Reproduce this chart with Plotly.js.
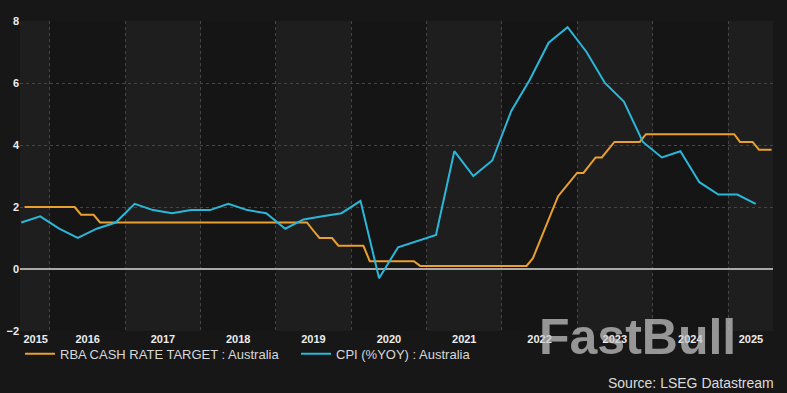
<!DOCTYPE html>
<html>
<head>
<meta charset="utf-8">
<script src="https://cdn.plot.ly/plotly-3.0.1.min.js"></script>
<style>
html,body{margin:0;padding:0;background:#171717;}
#chart{width:787px;height:393px;}
</style>
</head>
<body>
<div id="chart"></div>
<script>
// RBA cash rate target, month-end values (Aug 2015 .. Jul 2025)
const rbaMonths = [
  '2015-08','2015-09','2015-10','2015-11','2015-12',
  '2016-01','2016-02','2016-03','2016-04','2016-05','2016-06','2016-07','2016-08','2016-09','2016-10','2016-11','2016-12',
  '2017-01','2017-02','2017-03','2017-04','2017-05','2017-06','2017-07','2017-08','2017-09','2017-10','2017-11','2017-12',
  '2018-01','2018-02','2018-03','2018-04','2018-05','2018-06','2018-07','2018-08','2018-09','2018-10','2018-11','2018-12',
  '2019-01','2019-02','2019-03','2019-04','2019-05','2019-06','2019-07','2019-08','2019-09','2019-10','2019-11','2019-12',
  '2020-01','2020-02','2020-03','2020-04','2020-05','2020-06','2020-07','2020-08','2020-09','2020-10','2020-11','2020-12',
  '2021-01','2021-02','2021-03','2021-04','2021-05','2021-06','2021-07','2021-08','2021-09','2021-10','2021-11','2021-12',
  '2022-01','2022-02','2022-03','2022-04','2022-05','2022-06','2022-07','2022-08','2022-09','2022-10','2022-11','2022-12',
  '2023-01','2023-02','2023-03','2023-04','2023-05','2023-06','2023-07','2023-08','2023-09','2023-10','2023-11','2023-12',
  '2024-01','2024-02','2024-03','2024-04','2024-05','2024-06','2024-07','2024-08','2024-09','2024-10','2024-11','2024-12',
  '2025-01','2025-02','2025-03','2025-04','2025-05','2025-06','2025-07'
];
const rbaValues = [
  2.0,2.0,2.0,2.0,2.0,
  2.0,2.0,2.0,2.0,1.75,1.75,1.75,1.5,1.5,1.5,1.5,1.5,
  1.5,1.5,1.5,1.5,1.5,1.5,1.5,1.5,1.5,1.5,1.5,1.5,
  1.5,1.5,1.5,1.5,1.5,1.5,1.5,1.5,1.5,1.5,1.5,1.5,
  1.5,1.5,1.5,1.5,1.5,1.25,1.0,1.0,1.0,0.75,0.75,0.75,
  0.75,0.75,0.25,0.25,0.25,0.25,0.25,0.25,0.25,0.25,0.1,0.1,
  0.1,0.1,0.1,0.1,0.1,0.1,0.1,0.1,0.1,0.1,0.1,0.1,
  0.1,0.1,0.1,0.1,0.35,0.85,1.35,1.85,2.35,2.6,2.85,3.1,
  3.1,3.35,3.6,3.6,3.85,4.1,4.1,4.1,4.1,4.1,4.35,4.35,
  4.35,4.35,4.35,4.35,4.35,4.35,4.35,4.35,4.35,4.35,4.35,4.35,
  4.35,4.1,4.1,4.1,3.85,3.85,3.85
];

// CPI % YoY, quarterly (2015 Q3 .. 2025 Q2)
const cpiQuarters = [
  '2015-Q3','2015-Q4',
  '2016-Q1','2016-Q2','2016-Q3','2016-Q4',
  '2017-Q1','2017-Q2','2017-Q3','2017-Q4',
  '2018-Q1','2018-Q2','2018-Q3','2018-Q4',
  '2019-Q1','2019-Q2','2019-Q3','2019-Q4',
  '2020-Q1','2020-Q2','2020-Q3','2020-Q4',
  '2021-Q1','2021-Q2','2021-Q3','2021-Q4',
  '2022-Q1','2022-Q2','2022-Q3','2022-Q4',
  '2023-Q1','2023-Q2','2023-Q3','2023-Q4',
  '2024-Q1','2024-Q2','2024-Q3','2024-Q4',
  '2025-Q1','2025-Q2'
];
const cpiValues = [
  1.5,1.7,
  1.3,1.0,1.3,1.5,
  2.1,1.9,1.8,1.9,
  1.9,2.1,1.9,1.8,
  1.3,1.6,1.7,1.8,
  2.2,-0.3,0.7,0.9,
  1.1,3.8,3.0,3.5,
  5.1,6.1,7.3,7.8,
  7.0,6.0,5.4,4.1,
  3.6,3.8,2.8,2.4,
  2.4,2.1
];

const yearLabels = ['2015','2016','2017','2018','2019','2020','2021','2022','2023','2024','2025'];
const yTickValues = [-2,0,2,4,6,8];

const seriesNames = ['RBA CASH RATE TARGET : Australia','CPI (%YOY) : Australia'];
const sourceText = 'Source: LSEG Datastream';
const watermarkText = 'FastBull';

// helpers: month -> month-end date, quarter -> mid-quarter date
function monthEnd(m){
  const [y,mo] = m.split('-').map(Number);
  const d = new Date(Date.UTC(y, mo, 0));
  return d.toISOString().slice(0,10);
}
function quarterMid(q){
  const [y,qq] = q.split('-Q').map(Number);
  const mo = (qq-1)*3 + 2;
  return y + '-' + String(mo).padStart(2,'0') + '-15';
}

const xRange = ['2015-08-09','2025-08-07'];

// label positions: centre of visible part of each year
const tickPositions = yearLabels.map((y,i)=>{
  if(i===0) return '2015-10-24';
  if(i===yearLabels.length-1) return '2025-04-22';
  return y + '-07-02';
});
const yearStarts = yearLabels.slice(1).map(y => y + '-01-01');

// alternating year bands
const shapes = [];
yearLabels.forEach((y,i)=>{
  if(Number(y)%2===1){
    const x0 = i===0 ? xRange[0] : y + '-01-01';
    const x1 = i===yearLabels.length-1 ? xRange[1] : (Number(y)+1) + '-01-01';
    shapes.push({type:'rect', xref:'x', yref:'paper', x0:x0, x1:x1, y0:0, y1:1,
      fillcolor:'#1e1e1e', line:{width:0}, layer:'below'});
  }
});

const font = "'Liberation Sans', Arial, sans-serif";

const traces = [
  {
    x: rbaMonths.map(monthEnd), y: rbaValues, name: seriesNames[0],
    type:'scatter', mode:'lines', line:{color:'#e9a030', width:2}
  },
  {
    x: cpiQuarters.map(quarterMid), y: cpiValues, name: seriesNames[1],
    type:'scatter', mode:'lines', line:{color:'#2ab7d9', width:2}
  }
];

const layout = {
  width:787, height:393,
  paper_bgcolor:'#171717', plot_bgcolor:'#151515',
  margin:{l:20, r:14, t:21, b:62},
  showlegend:true,
  font:{family:font, color:'#dcdcdc'},
  xaxis:{
    type:'date', range:xRange,
    tickmode:'array', tickvals:tickPositions, ticktext:yearLabels,
    ticks:'', showgrid:false, zeroline:false, showline:false,
    tickfont:{family:font, size:11, color:'#ececec', weight:'bold'},
    minor:{tickmode:'array', tickvals:yearStarts, showgrid:true, gridcolor:'#454545',
      griddash:'dot', gridwidth:1, ticks:''}
  },
  yaxis:{
    range:[-2,8], tickmode:'array', tickvals:yTickValues,
    ticks:'', showgrid:true, gridcolor:'#454545', griddash:'dot', gridwidth:1,
    zeroline:true, zerolinecolor:'#a9a9a9', zerolinewidth:1.5,
    showline:false,
    tickfont:{family:font, size:11, color:'#ececec', weight:'bold'}
  },
  legend:{
    orientation:'h', x:0, xanchor:'left', y:-0.025, yanchor:'top',
    font:{family:font, size:13, color:'#d8d8d8'},
    bgcolor:'rgba(0,0,0,0)', entrywidth:231, entrywidthmode:'pixels',
    itemclick:false
  },
  shapes: shapes,
  annotations:[
    {xref:'paper', yref:'paper', x:1.004, y:-0.1675, xanchor:'right', yanchor:'middle',
     text:sourceText, showarrow:false, font:{family:font, size:14, color:'#dcdcdc'}},
    {xref:'paper', yref:'paper', x:(637-20)/753, y:(331-337)/310, xanchor:'center', yanchor:'middle',
     text:watermarkText, showarrow:false,
     font:{family:"'Liberation Sans', Arial, sans-serif", size:50, color:'rgba(200,200,200,0.72)', weight:'bold'}}
  ]
};

Plotly.newPlot('chart', traces, layout, {displayModeBar:false, staticPlot:true});
</script>
</body>
</html>
